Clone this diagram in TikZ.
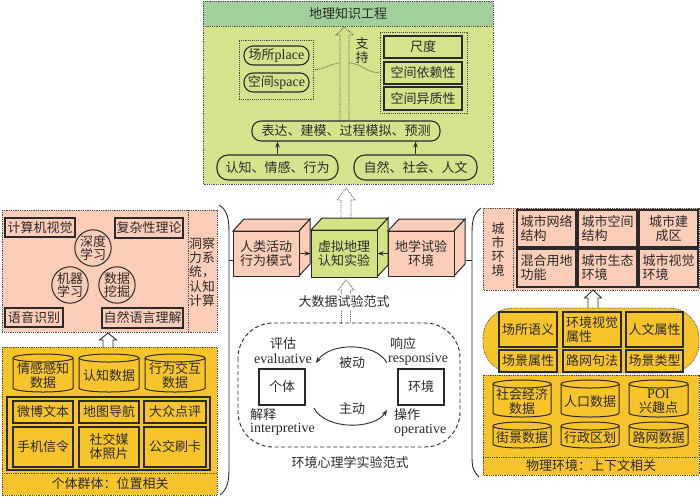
\documentclass[tikz,border=0pt]{standalone}
\usepackage{fontspec}
\setmainfont{Noto Sans CJK SC}
\newfontfamily\latf{Liberation Serif}
\newcommand\lat{\latf\fontsize{14}{14.5}\selectfont}
\usetikzlibrary{arrows.meta}
\definecolor{pinkc}{HTML}{FCCDB9}
\definecolor{orng}{HTML}{F8C42C}
\definecolor{ygreen}{HTML}{D6E38C}
\definecolor{hgreen}{HTML}{A2D09C}
\definecolor{cubeg}{HTML}{D4E284}
\definecolor{ln}{HTML}{2A2A2A}
\tikzset{
  every node/.style={font=\fontsize{13}{14}\selectfont, inner sep=0pt, text=ln},
  bx/.style={draw=ln, line width=1.1pt, align=center},
  rbx/.style={bx, rounded corners=9pt},
  dotb/.style={draw=ln!85, densely dotted, line width=0.8pt},
  brk/.style={draw=ln, line width=0.9pt},
  arr/.style={draw=ln, line width=0.9pt, -{Stealth[length=6pt,width=4.5pt]}},
  harr/.style={draw=ln, line width=0.9pt, fill=white},
  hdot/.style={draw=ln!85, densely dotted, line width=0.8pt},
  cylf/.style={draw=ln, line width=1pt},
  cubeline/.style={draw=ln, line width=1pt},
}
% box: name x1 y1 x2 y2 text
\newcommand\bx[7][]{\node[bx,#1,minimum width={#5-#3},minimum height={#6-#4}] (#2) at ({(#3+#5)/2},{(#4+#6)/2}) {#7};}
% cylinder: name x1 y1 x2 y2 fill text
\newcommand\cyl[7]{%
  \pgfmathsetmacro\cw{(#4-#2)/2}%
  \filldraw[cylf,fill=#6] (#2,#3+4) -- (#2,#5-4) arc[start angle=180,end angle=360,x radius=\cw pt,y radius=4pt] -- (#4,#3+4) arc[start angle=0,end angle=180,x radius=\cw pt,y radius=4pt] -- cycle;
  \draw[cylf] (#2,#3+4) arc[start angle=180,end angle=360,x radius=\cw pt,y radius=4pt];
  \node[align=center] (#1) at ({(#2+#4)/2},{(#3+#5)/2+3}) {#7};}
% hollow up arrow: style xc ybottom ytip shafthalf headhalf headlen
\newcommand\harrow[7]{%
  \draw[#1] (#2-#5,#3) -- (#2-#5,#4+#7) -- (#2-#6,#4+#7) -- (#2,#4) -- (#2+#6,#4+#7) -- (#2+#5,#4+#7) -- (#2+#5,#3);}
% cube: name x1 y1 x2 y2 color text
\newcommand\cube[7]{%
  \filldraw[cubeline,fill=#6] (#2,#3) -- (#2+11,#3-12) -- (#4+11,#3-12) -- (#4,#3) -- cycle;
  \filldraw[cubeline,fill=#6] (#4,#3) -- (#4+11,#3-12) -- (#4+11,#5-12) -- (#4,#5) -- cycle;
  \node[bx,fill=#6,line width=1pt,minimum width={#4-#2},minimum height={#5-#3}] (#1) at ({(#2+#4)/2},{(#3+#5)/2}) {#7};}
\begin{document}
\begin{tikzpicture}[x=1pt,y=-1pt]
\useasboundingbox (0,0) rectangle (700,496);
% ================= TOP PANEL =================
\fill[ygreen] (203,1) rectangle (493,184);
\fill[hgreen] (203,1) rectangle (493,26);
\draw[dotb] (203,26) -- (493,26);
\draw[dotb] (203,1) rectangle (493,184);
\node (title) at (348,14) {地理知识工程};
\bx[dotb]{lbox}{239}{40}{313}{99}{}
\bx[rbx]{place}{244}{46}{309}{65}{场所{\lat place}}
\bx[rbx]{space}{244}{73}{309}{92}{空间{\lat space}}
\bx[dotb]{rbox}{380}{32}{467}{113}{}
\bx{scale}{384}{36}{462}{58}{尺度}
\bx{dep}{384}{62}{462}{84}{空间依赖性}
\bx{het}{384}{87}{462}{110}{空间异质性}
\node[align=center] (support) at (362,51) {支\\持};
\bx[rbx]{expr}{252}{121}{440}{141}{表达、建模、过程模拟、预测}
\bx[rbx,rounded corners=11pt]{cog}{217}{155}{338}{180}{认知、情感、行为}
\bx[rbx,rounded corners=11pt]{nat}{354}{155}{477}{180}{自然、社会、人文}
\draw[arr] (cog.north) -- (cog.north |- expr.south);
\draw[arr] (nat.north) -- (nat.north |- expr.south);
\harrow{hdot}{344.5}{121}{27}{4.5}{8.5}{8}
\draw[dotb] (lbox.east) .. controls (325,70) and (328,64) .. (340,63);
\draw[dotb] (349,63) .. controls (362,63) and (368,74) .. (rbox.west);
% ================= CENTER =================
\harrow{hdot}{346}{219}{188}{5}{9}{12}
\cube{c1}{233}{231}{299}{276}{pinkc}{人类活动\\行为模式}
\cube{c2}{311}{230}{377}{277}{cubeg}{虚拟地理\\认知实验}
\cube{c3}{388}{231}{454}{276}{pinkc}{地学试验\\环境}
\draw[arr] (c1.east) -- (c2.west);
\draw[arr] (c3.west) -- (c2.east);
% brackets
\draw[brk] (219,205) .. controls (227,210) and (229,218) .. (229,232) -- (229,470) .. controls (229,484) and (226,490) .. (220,495);
\draw[brk] (481,208) .. controls (474,213) and (472,220) .. (472,232) -- (472,458) .. controls (472,468) and (474,472) .. (479,477);
\draw[brk] (229,260) -- (c1.west |- 229,260);
\draw[brk] (c3.east |- 465,260) ++(11,0) -- (472,260);
% lower arrow
\harrow{hdot}{346}{323}{280}{4.5}{8}{10}
\node[fill=white,inner sep=1.5pt] (bigdata) at (344,302) {大数据试验范式};
% dashed region
\draw[draw=ln, line width=0.9pt, dash pattern=on 4pt off 2.5pt, rounded corners=35pt] (238,323) rectangle (460,447);
\bx{indiv}{259}{369}{305}{405}{个体}
\bx{env}{398}{369}{444}{405}{环境}
\node[anchor=west] (pg) at (270,344) {评估};
\node[anchor=west] (pge) at (254,359) {\lat evaluative};
\node[anchor=west] (xy) at (390,344) {响应};
\node[anchor=west] (xye) at (388,359) {\lat responsive};
\node[anchor=west] (js) at (250,415) {解释};
\node[anchor=west] (jse) at (250,429) {\lat interpretive};
\node[anchor=west] (cz) at (394,415) {操作};
\node[anchor=west] (cze) at (394,430) {\lat operative};
\node (bd) at (352,363) {被动};
\node (zd) at (352,409) {主动};
\coordinate (p1) at (387,363);
\coordinate (p2) at (316,363);
\coordinate (p3) at (314,408);
\coordinate (p4) at (387,410);
\draw[arr] (p1) .. controls (376,342) and (330,342) .. (p2);
\draw[arr] (p3) .. controls (325,430) and (374,430) .. (p4);
\node (envpsy) at (350,463) {环境心理学实验范式};
% ================= LEFT =================
\fill[pinkc] (2,210) rectangle (217,332);
\draw[dotb] (2,210) rectangle (217,332);
\draw[dotb] (188,210) -- (188,332);
\node[align=left, font=\fontsize{12.8}{14.3}\selectfont] (insight) at (202,272) {洞察\\力系\\统，\\认知\\计算};
\bx{cv}{5}{218}{75}{237}{计算机视觉}
\bx{cx}{115}{218}{183}{238}{复杂性理论}
\bx{sr}{5}{308}{63}{327}{语音识别}
\bx{nlp}{102}{308}{183}{328}{自然语言理解}
\tikzset{circ/.style={circle, draw=ln, line width=1pt, minimum size=35pt, align=center, font=\fontsize{13}{13.5}\selectfont}}
\node[circ] (dl) at (93,248) {深度\\学习};
\node[circ] (ml) at (70,285) {机器\\学习};
\node[circ] (dm) at (117,285) {数据\\挖掘};
\fill[orng] (2,347) rectangle (217,495);
\draw[dotb] (2,347) rectangle (217,495);
\draw[dotb] (2,473) -- (217,473);
\node (indgrp) at (110,484) {个体群体：位置相关};
\harrow{harr}{108}{347}{333}{5}{8.5}{7}
\cyl{d1}{13}{354}{73}{392}{orng}{情感感知\\数据}
\cyl{d2}{79}{354}{139}{392}{orng}{认知数据}
\cyl{d3}{145}{354}{205}{392}{orng}{行为交互\\数据}
\bx{inner}{7}{397}{210}{470}{}
\bx{wb}{13}{401}{73}{423}{微博文本}
\bx{mn}{79}{401}{139}{423}{地图导航}
\bx{dz}{144}{401}{206}{423}{大众点评}
\bx{sj}{13}{427}{73}{467}{手机信令}
\bx{sm}{79}{427}{139}{467}{社交媒\\体照片}
\bx{gj}{144}{427}{206}{467}{公交刷卡}
% ================= RIGHT =================
\fill[pinkc] (483,208) rectangle (699,290);
\draw[dotb] (483,208) rectangle (699,290);
\draw[dotb] (513,208) -- (513,290);
\node[align=center] (cityenv) at (498,250) {城\\市\\环\\境};
\bx[align=left]{u1}{517}{210}{576}{247}{城市网络\\结构}
\bx[align=left]{u2}{578}{210}{637}{247}{城市空间\\结构}
\bx{u3}{639}{210}{698}{247}{城市建\\成区}
\bx[align=left]{u4}{517}{249}{576}{287}{混合用地\\功能}
\bx[align=left]{u5}{578}{249}{637}{287}{城市生态\\环境}
\bx[align=left]{u6}{639}{249}{698}{287}{城市视觉\\环境}
\harrow{harr}{593}{308}{290}{5}{8.5}{8}
\filldraw[fill=orng, dotb, rounded corners=30pt] (483,308) rectangle (699,373);
\bx{s1}{499}{312}{557}{347}{场所语义}
\bx[align=left]{s2}{563}{312}{621}{347}{环境视觉\\属性}
\bx{s3}{626}{312}{683}{347}{人文属性}
\bx{s4}{499}{350}{557}{372}{场景属性}
\bx{s5}{563}{350}{621}{372}{路网句法}
\bx{s6}{626}{350}{683}{372}{场景类型}
\fill[orng] (483,375) rectangle (699,475);
\draw[dotb] (483,375) rectangle (699,475);
\draw[dotb] (483,457) -- (699,457);
\node (phys) at (591,466) {物理环境：上下文相关};
\cyl{e1}{493}{380}{551}{417}{orng}{社会经济\\数据}
\cyl{e2}{561}{380}{619}{417}{orng}{人口数据}
\cyl{e3}{629}{380}{688}{417}{orng}{{\lat POI}\\兴趣点}
\cyl{e4}{493}{422}{551}{448}{orng}{街景数据}
\cyl{e5}{561}{422}{619}{448}{orng}{行政区划}
\cyl{e6}{629}{422}{688}{448}{orng}{路网数据}
\end{tikzpicture}
\end{document}
